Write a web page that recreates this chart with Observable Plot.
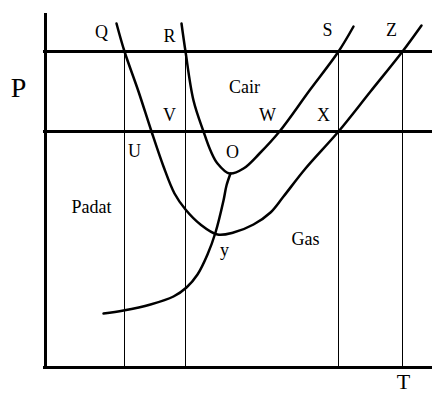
<!DOCTYPE html>
<html>
<head>
<meta charset="utf-8">
<script src="https://cdn.jsdelivr.net/npm/d3@7"></script>
<script src="https://cdn.jsdelivr.net/npm/@observablehq/plot@0.6"></script>
<style>
  html, body { margin: 0; padding: 0; background: #fff; }
  svg { display: block; }
</style>
</head>
<body>
<div id="chart"></div>
<script>
// Units: T (temperature) and P (pressure), arbitrary sketch units
const curveA_T = [71, 79, 93, 106, 118, 129, 140, 155, 172, 188, 208, 225, 238, 260, 293, 325, 357, 376];
const curveA_P = [344, 316, 276, 236, 201, 174, 158, 143, 133, 135, 143, 155, 171, 199, 236, 276, 316, 342];

const curveB_T = [136, 140, 148, 158, 165, 172, 184, 198, 214, 234, 264, 293, 308];
const curveB_P = [344, 316, 267, 236, 217, 204, 194, 199, 214, 236, 277, 316, 341];

const curveC_T = [58, 78, 105, 128, 141, 152, 162, 170, 178, 181, 185];
const curveC_P = [54, 57, 63, 71, 80, 93, 113, 135, 167, 182, 194];

const pressureLevels = [316, 236];
const temperatureLevels = [79, 140, 293, 357];

const labelText = ["Q", "R", "S", "Z", "V", "W", "X", "Cair", "U", "O", "Padat", "Gas", "y"];
const labelT    = [56, 124, 282, 346, 124, 222, 278, 199, 89, 187, 46, 260, 179];
const labelP    = [335, 331, 337, 337, 252, 252, 252, 280, 216, 215, 160, 128, 117];

const axisText = ["P", "T"];
const axisT = [-27, 358];
const axisP = [279, -14];
const axisSize = [28, 22];

const toPts = (ts, ps) => ts.map((t, i) => ({T: t, P: ps[i]}));
const A = toPts(curveA_T, curveA_P);
const B = toPts(curveB_T, curveB_P);
const C = toPts(curveC_T, curveC_P);
const labels = labelText.map((s, i) => ({s, T: labelT[i], P: labelP[i]}));
const axisLabels = axisText.map((s, i) => ({s, T: axisT[i], P: axisP[i], size: axisSize[i]}));

const font = "'Liberation Serif', 'Times New Roman', serif";

const chart = Plot.plot({
  width: 432,
  height: 394,
  margin: 0,
  style: {background: "#fff", overflow: "visible"},
  x: {type: "linear", domain: [0, 387], range: [45, 432], axis: null},
  y: {type: "linear", domain: [0, 354], range: [367, 13], axis: null},
  marks: [
    Plot.ruleX(temperatureLevels, {y1: 0, y2: 316, stroke: "#000", strokeWidth: 1}),
    Plot.ruleY(pressureLevels, {x1: -2, x2: 387, stroke: "#000", strokeWidth: 3}),
    Plot.ruleY([0], {x1: -2, x2: 387, stroke: "#000", strokeWidth: 3}),
    Plot.ruleX([0], {y1: 0, y2: 354, stroke: "#000", strokeWidth: 3}),
    Plot.line(A, {x: "T", y: "P", curve: "catmull-rom", stroke: "#000", strokeWidth: 2.5}),
    Plot.line(B, {x: "T", y: "P", curve: "catmull-rom", stroke: "#000", strokeWidth: 2.5}),
    Plot.line(C, {x: "T", y: "P", curve: "catmull-rom", stroke: "#000", strokeWidth: 2.5}),
    Plot.text(labels, {x: "T", y: "P", text: "s", fontFamily: font, fontSize: 18, fill: "#000"}),
    Plot.text(axisLabels, {x: "T", y: "P", text: "s", fontFamily: font, fontSize: "size", fill: "#000"})
  ]
});
document.getElementById("chart").appendChild(chart);
</script>
</body>
</html>
